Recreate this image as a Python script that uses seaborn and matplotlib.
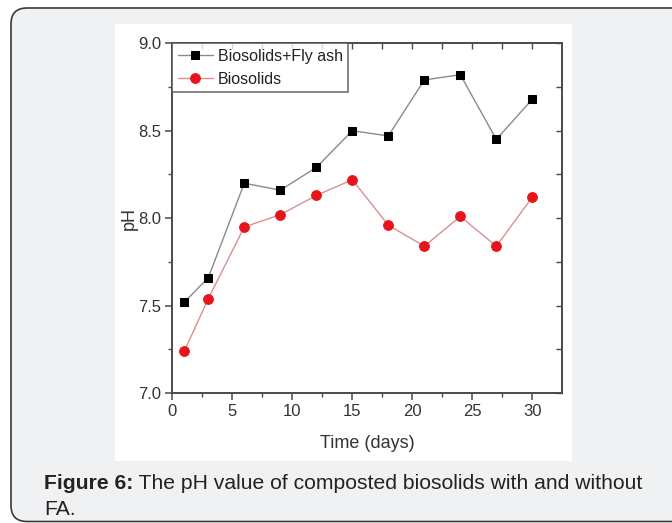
import matplotlib
matplotlib.use('Agg')
import matplotlib.pyplot as plt
import seaborn as sns
import pandas as pd
from matplotlib.patches import FancyBboxPatch, Rectangle
from matplotlib.ticker import MultipleLocator

# Data
days = [1, 3, 6, 9, 12, 15, 18, 21, 24, 27, 30]
ph_fly_ash = [7.52, 7.66, 8.20, 8.16, 8.29, 8.50, 8.47, 8.79, 8.82, 8.45, 8.68]
ph_biosolids = [7.24, 7.54, 7.95, 8.02, 8.13, 8.22, 7.96, 7.84, 8.01, 7.84, 8.12]
series_names = ['Biosolids+Fly ash', 'Biosolids']

df = pd.DataFrame({'day': days, 'fa': ph_fly_ash, 'bio': ph_biosolids})

sns.set_style('ticks')
plt.rcParams['font.family'] = ['Liberation Sans', 'DejaVu Sans']

fig = plt.figure(figsize=(6.72, 5.23), dpi=100)
fig.patch.set_facecolor('white')

# grey card with rounded border, and white picture area (behind the axes)
card = FancyBboxPatch((0.11, 0.015), 7.0, 5.135, boxstyle='round,pad=0,rounding_size=0.16',
                      transform=fig.dpi_scale_trans, facecolor='#f0f1f3',
                      edgecolor='#3a3a3a', linewidth=1.2, zorder=-2)
fig.patches.append(card)
fig.patches.append(Rectangle((115 / 672, 1 - 461 / 523), 457 / 672, 437 / 523,
                             transform=fig.transFigure, facecolor='white',
                             edgecolor='none', zorder=-1))

ax = fig.add_axes([0.2564, 0.2482, 0.5795, 0.6692])
ax.set_facecolor('none')

sns.lineplot(data=df, x='day', y='fa', ax=ax, color='#8a8a8a', linewidth=1.0,
             marker='s', markersize=6, markerfacecolor='black', markeredgecolor='black',
             label=series_names[0])
sns.lineplot(data=df, x='day', y='bio', ax=ax, color='#d89090', linewidth=1.0,
             marker='o', markersize=7, markerfacecolor='#e8141b', markeredgecolor='#e8141b',
             label=series_names[1])

ax.set_xlim(0, 32.45)
ax.set_ylim(7.0, 9.0)
ax.xaxis.set_major_locator(MultipleLocator(5))
ax.xaxis.set_minor_locator(MultipleLocator(2.5))
ax.yaxis.set_major_locator(MultipleLocator(0.5))
ax.yaxis.set_minor_locator(MultipleLocator(0.25))
ax.set_yticks([7.0, 7.5, 8.0, 8.5, 9.0])
ax.set_yticklabels(['7.0', '7.5', '8.0', '8.5', '9.0'])

spine_col = '#4a4a4a'
for s in ax.spines.values():
    s.set_visible(True)
    s.set_color(spine_col)
    s.set_linewidth(1.4)

ax.tick_params(which='major', direction='out', length=5, width=1.1, color=spine_col,
               labelsize=12, labelcolor='#333333', pad=3)
ax.tick_params(which='minor', direction='out', length=3, width=1.0, color=spine_col)

# inward ticks on top and right
top = ax.secondary_xaxis('top')
top.xaxis.set_major_locator(MultipleLocator(5))
top.xaxis.set_minor_locator(MultipleLocator(2.5))
top.tick_params(which='both', direction='in', length=4, width=1.0, color=spine_col, labeltop=False)
top.spines['top'].set_visible(False)
right = ax.secondary_yaxis('right')
right.yaxis.set_major_locator(MultipleLocator(0.5))
right.yaxis.set_minor_locator(MultipleLocator(0.25))
right.tick_params(which='both', direction='in', length=4, width=1.0, color=spine_col, labelright=False)
right.spines['right'].set_visible(False)

ax.set_xlabel('Time (days)', fontsize=13, color='#333333', labelpad=11)
ax.set_ylabel('pH', fontsize=13, color='#333333', labelpad=0.5)

leg = ax.legend(loc='upper left', borderaxespad=0, fontsize=11.5, frameon=True,
                fancybox=False, handlelength=2.2, handletextpad=0.3,
                borderpad=0.35, labelspacing=0.5)
leg.get_frame().set_edgecolor(spine_col)
leg.get_frame().set_linewidth(1.2)
for t in leg.get_texts():
    t.set_color('#222222')

# caption under the picture
cap1 = fig.text(44 / 672, 1 - 489 / 523, 'Figure 6:', fontsize=15.2, fontweight='bold',
                color='#222222', va='baseline', zorder=3)
fig.canvas.draw()
bb = cap1.get_window_extent()
fig.text(bb.x1 / 672, 1 - 489 / 523, ' The pH value of composted biosolids with and without',
         fontsize=15.2, color='#222222', va='baseline', zorder=3)
fig.text(44 / 672, 1 - 515 / 523, 'FA.', fontsize=15.2, color='#222222', va='baseline', zorder=3)

fig.savefig('out.png', dpi=100)
